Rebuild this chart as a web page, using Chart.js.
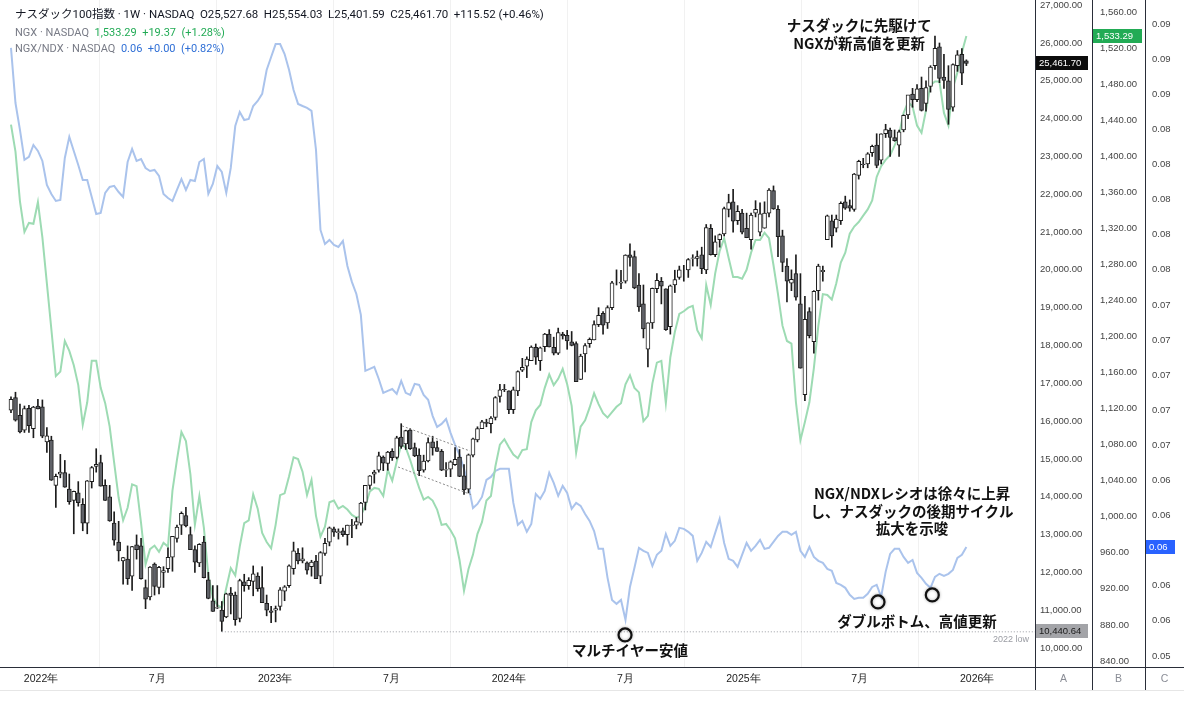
<!DOCTYPE html>
<html>
<head>
<meta charset="utf-8">
<script src="https://cdn.jsdelivr.net/npm/chart.js@4.4.1/dist/chart.umd.min.js"></script>
<style>
  html, body { margin: 0; padding: 0; background: #fff; }
  #wrap { width: 1184px; height: 701px; position: relative; }
</style>
</head>
<body>
<div id="wrap"><canvas id="chart" width="1184" height="701"></canvas></div>
<script>
// Weekly candles, index 0 = week of 15 Nov 2021
const ndxOpen = [
  16290,16620,16150,15760,16340,15800,16400,16380,15450,15500,
  14300,14600,14640,14200,13900,14100,13800,13300,14400,14800,
  14900,14300,14000,13300,12800,12300,12350,11900,12730,12700,
  11600,11350,12220,11600,12000,12100,12400,12900,13250,13500,
  13000,12600,12250,12800,11800,11250,11050,11000,10820,11450,
  11400,10780,11750,11650,11760,11900,11600,11180,10980,11000,
  11100,11500,11650,12100,12500,12300,12250,12150,12300,11900,
  12500,12800,13150,13050,13100,13000,13250,13250,13300,13850,
  14300,14600,14700,15050,14880,15200,15040,15580,15400,15760,
  15300,15100,14700,14950,15450,15300,15200,14700,14730,14850,
  15050,14550,14200,15100,15500,15800,15970,15930,16100,16650,
  16840,16800,16300,16800,17350,17450,17600,17950,17600,17970,
  18300,17950,17800,18300,18270,18100,18050,17100,17780,18050,
  18150,18550,18850,18600,19000,19700,19650,19700,20400,20350,
  19600,19100,17900,18600,19500,19700,19500,18500,19600,19800,
  20000,20000,20300,20300,20400,20000,21100,20400,20800,20950,
  21600,21800,21300,21500,21100,20800,21500,21000,21100,21500,
  22100,21600,20900,20100,19650,19900,19100,16700,18900,18100,
  19450,19950,20800,21300,21100,21300,21800,21700,21600,22500,
  22800,22800,23100,23300,22900,23600,23700,23500,23300,23700,
  24100,24650,24500,24800,24400,24850,25400,25900,25100,25000,
  24300,25400,25700,25527.68
];
const ndxHigh = [
  16640,16764,16450,16400,16420,16390,16573,16560,15830,15600,
  14600,15120,14960,14600,14150,14400,13950,14430,14800,15270,
  15100,14450,14300,13600,13350,12400,12700,12690,12990,12900,
  11800,12150,12250,12160,12150,12650,12950,13250,13600,13720,
  13200,12700,12760,12950,12000,11650,11650,11230,11450,11600,
  11480,11820,11950,11860,12170,11990,12150,11400,11100,11110,
  11600,11650,12200,12800,12630,12650,12280,12320,12450,12550,
  12900,13200,13200,13150,13170,13250,13400,13450,13850,14300,
  14560,14700,15180,15080,15200,15270,15600,15932,15760,15800,
  15420,15270,15100,15560,15600,15470,15250,14900,14950,15300,
  15250,14850,15130,15550,15850,16020,16050,16120,16650,16970,
  16970,16800,16900,17330,17660,17700,17990,18040,17960,18320,
  18420,18220,18460,18350,18400,18370,18100,17770,18050,18200,
  18650,19000,18900,19050,19700,20000,19990,20400,20690,20500,
  19900,19600,18600,19520,19900,19800,19500,19600,19990,20100,
  20120,20300,20400,20500,20600,21200,21200,20900,20950,21660,
  22000,22130,21700,21600,21500,21500,21830,21770,21800,22150,
  22220,21700,21050,20300,20000,20400,19900,19300,19000,19450,
  20150,20100,21450,21450,21450,21800,21950,21850,22550,22900,
  22950,23100,23300,23600,23600,23850,23750,23700,23700,24100,
  24600,24800,24900,25100,25000,25400,26180,26000,25700,25400,
  25450,25800,25850,25554.03
];
const ndxLow = [
  16220,16000,15690,15700,15700,15560,16320,15560,15170,14430,
  13720,14500,14250,13800,13020,13750,13100,13020,14230,14650,
  14280,13900,13350,12720,12300,11690,11680,11520,12350,11820,
  11040,11270,11400,11430,11600,12000,12030,12800,13000,13200,
  12600,12000,12150,11850,11300,10970,11040,10440.64,10800,10900,
  10600,10690,11500,11550,11380,11500,11200,10850,10670,10690,
  11000,11250,11600,11950,12220,12250,11950,11900,11830,11700,
  12450,12700,12950,12880,12950,12720,12920,13150,13250,13650,
  14200,14360,14650,14690,14700,14960,15000,15280,15250,15250,
  15060,14560,14650,14920,15100,15200,14690,14530,14530,14830,
  14530,14060,14100,15050,15450,15800,15850,15690,16030,16500,
  16780,16200,16200,16670,17310,17150,17600,17500,17340,17840,
  17960,17750,17760,18170,17900,17990,17040,17100,17300,17950,
  18150,18500,18300,18450,18950,19600,19500,19650,20100,19500,
  18900,18200,17430,18450,19400,19100,18400,18300,19400,19750,
  19700,19800,20100,20100,19900,19900,20390,20350,20600,20900,
  21400,21000,21200,20950,20850,20550,21400,20900,21100,21400,
  21600,20350,19950,19150,19450,19200,17400,16540,18200,17800,
  19200,19700,20800,20600,21000,21200,21600,21550,21550,22400,
  22700,22700,23000,22700,22800,23500,23000,23400,23000,23650,
  24000,24300,24450,24200,24200,24700,25300,24950,24800,23850,
  24200,25250,24900,25401.59
];
const ndxClose = [
  16573,16025,15712,16331,15880,16370,16320,15600,15610,14440,
  14540,14650,14250,13870,14140,13840,13300,14420,14770,14860,
  14280,13900,13360,12850,12570,12390,11830,12680,12600,11830,
  11290,12140,11630,12130,12050,12400,12950,13200,13560,13230,
  12600,12270,12740,11860,11310,10970,11070,10700,11430,11390,
  10750,11780,11650,11790,11960,11570,11200,11000,10940,11040,
  11540,11620,12170,12570,12300,12360,12060,12270,11830,12520,
  12770,13180,13060,13080,13000,13250,13240,13340,13830,14300,
  14550,14650,15080,14890,15180,15030,15560,15330,15750,15270,
  15080,14690,14940,15430,15290,15200,14700,14720,14920,14990,
  14540,14180,15110,15530,15800,15980,15940,16080,16620,16830,
  16830,16300,16830,17310,17420,17640,17960,17690,17940,18300,
  17960,17800,18340,18250,18120,18000,17040,17720,18000,18160,
  18550,18800,18540,19000,19660,19700,19680,20390,20330,19520,
  19020,18440,18600,19510,19720,19570,18420,19580,19740,20000,
  20000,20270,20320,20350,20030,21120,20400,20740,20930,21620,
  21780,21290,21550,21000,20850,21450,21600,21480,21500,22110,
  21610,20880,20200,19700,19750,19280,17400,18690,18260,19430,
  20100,19990,21430,20900,21340,21760,21630,21630,22530,22870,
  22780,23070,23270,22760,23600,23710,23500,23420,23650,24090,
  24630,24500,24790,24220,24820,25360,25860,25060,25010,24240,
  25430,25690,25200,25461.70
];
// NGX weekly close (axis B)
const ngxClose = [
  1435,1405,1350,1316,1326,1325,1349,1310,1259,1208,
  1156,1161,1195,1184,1168,1146,1102,1127,1173,1173,
  1143,1126,1100,1060,1021,996,1010,1036,1034,993,
  947,964,968,961,971,967,1029,1063,1094,1084,
  1047,991,1023,988,935,910,902,899,921,943,
  935,967,993,996,1025,1009,982,972,965,991,
  1024,1026,1045,1066,1064,1050,1024,1041,1001,978,
  989,1016,1018,1009,1012,1008,1002,999,1001,1012,
  1028,1032,1031,1023,1052,1040,1061,1080,1077,1063,
  1047,1032,1019,1022,1018,1008,991,992,985,976,
  952,918,942,958,981,994,1018,1023,1056,1080,
  1086,1077,1069,1065,1074,1075,1105,1118,1124,1143,
  1158,1146,1153,1164,1147,1123,1071,1100,1107,1121,
  1137,1125,1115,1110,1116,1122,1126,1147,1157,1143,
  1138,1106,1112,1148,1171,1173,1126,1177,1205,1225,
  1228,1232,1234,1207,1198,1257,1235,1270,1295,1309,
  1287,1266,1266,1264,1274,1293,1307,1307,1315,1309,
  1279,1247,1212,1195,1192,1127,1085,1105,1127,1165,
  1212,1247,1246,1241,1259,1282,1293,1314,1322,1327,
  1334,1341,1351,1377,1389,1396,1401,1412,1424,1448,
  1460,1455,1434,1426,1451,1479,1483,1483,1448,1434,
  1476,1493,1515,1533.29
];
// NGX/NDX ratio (axis C)
const ratioClose = [
  0.08864,0.08550,0.08397,0.08226,0.08243,0.08311,0.08277,0.08220,0.08083,0.08032,
  0.07992,0.07998,0.08237,0.08357,0.08277,0.08197,0.08112,0.08112,0.08015,0.07918,
  0.07924,0.08038,0.08072,0.08078,0.08043,0.08015,0.08214,0.08288,0.08220,0.08231,
  0.08180,0.08163,0.08169,0.08135,0.08032,0.08009,0.07992,0.08055,0.08117,0.08055,
  0.08112,0.08106,0.08214,0.08231,0.08032,0.08089,0.08191,0.08157,0.08038,0.08180,
  0.08419,0.08499,0.08453,0.08459,0.08533,0.08562,0.08602,0.08738,0.08812,0.08886,
  0.08886,0.08829,0.08738,0.08624,0.08545,0.08533,0.08522,0.08505,0.08283,0.07827,
  0.07747,0.07770,0.07742,0.07730,0.07764,0.07622,0.07531,0.07462,0.07343,0.07024,
  0.07035,0.07047,0.06978,0.06899,0.06910,0.06921,0.06893,0.06967,0.06899,0.06887,
  0.06950,0.06944,0.06887,0.06859,0.06768,0.06705,0.06722,0.06750,0.06671,0.06602,
  0.06545,0.06466,0.06369,0.06243,0.06266,0.06306,0.06403,0.06420,0.06454,0.06466,
  0.06466,0.06466,0.06272,0.06147,0.06169,0.06107,0.06152,0.06323,0.06295,0.06340,
  0.06443,0.06386,0.06312,0.06369,0.06329,0.06238,0.06272,0.06255,0.06209,0.06169,
  0.06112,0.06010,0.06010,0.05845,0.05719,0.05697,0.05719,0.05606,0.05793,0.05902,
  0.06016,0.05999,0.05987,0.05913,0.05976,0.05999,0.06095,0.06027,0.06056,0.06130,
  0.06124,0.06107,0.06084,0.05942,0.05987,0.06050,0.06021,0.06101,0.06181,0.06044,
  0.05953,0.05942,0.05907,0.05976,0.06044,0.05999,0.06027,0.06061,0.06010,0.06016,
  0.06050,0.06084,0.06107,0.06107,0.06090,0.06107,0.05999,0.05964,0.06021,0.05964,
  0.05942,0.05930,0.05896,0.05885,0.05816,0.05805,0.05788,0.05748,0.05725,0.05731,
  0.05731,0.05754,0.05793,0.05805,0.05737,0.05879,0.05981,0.06010,0.06010,0.05964,
  0.05930,0.05947,0.05873,0.05845,0.05811,0.05788,0.05850,0.05868,0.05856,0.05868,
  0.05890,0.05959,0.05976,0.06021
];

// x axis: week index of each date label
const tickWeeks = [6.7, 32.6, 58.9, 84.8, 111.0, 137.0, 163.3, 189.2, 215.4];
const tickLabels = ['2022年', '7月', '2023年', '7月', '2024年', '7月', '2025年', '7月', '2026年'];
const ticksA = [10000,11000,12000,13000,14000,15000,16000,17000,18000,19000,20000,21000,22000,23000,24000,25000,26000,27000];
const ticksB = [840,880,920,960,1000,1040,1080,1120,1160,1200,1240,1280,1320,1360,1400,1440,1480,1520,1560];
const ticksC = [0.054,0.056,0.058,0.060,0.062,0.064,0.066,0.068,0.070,0.072,0.074,0.076,0.078,0.080,0.082,0.084,0.086,0.088,0.090];

const lowWeek = 47; // 2022 low candle

// annotation anchors: [week index, value on axis A]
const notes = [
  { at: [189.1, 26450], lines: ['ナスダックに先駆けて', 'NGXが新高値を更新'] },
  { at: [200.9, 14073], lines: ['NGX/NDXレシオは徐々に上昇', 'し、ナスダックの後期サイクル', '拡大を示唆'] },
  { at: [202.0, 10688], lines: ['ダブルボトム、高値更新'] },
  { at: [138.0, 9921], lines: ['マルチイヤー安値'] }
];
const circles = [[136.9, 10344], [193.3, 11217], [205.4, 11402]];
const channel = [
  [[87.2, 15872], [102.3, 15211]],
  [[86.3, 14787], [102.8, 14047]]
];

const UI = 'Roboto, "Noto Sans CJK JP", sans-serif';
const NUM = '"Liberation Sans", Arial, sans-serif';
const JP = '"Noto Sans CJK JP", sans-serif';

const fmt = v => v.toLocaleString('en-US', { minimumFractionDigits: 2, maximumFractionDigits: 2 });

const weeks = ndxClose.map((_, i) => i);
const isUp = weeks.map(i => ndxClose[i] >= ndxOpen[i]);

function fixWidth(w) {
  return function (scale) {
    scale.width = w;
    scale.paddingTop = 0;
    scale.paddingBottom = 0;
  };
}

const overlay = {
  id: 'overlay',
  beforeDraw(chart) {
    const ctx = chart.ctx;
    ctx.save();
    ctx.fillStyle = '#ffffff';
    ctx.fillRect(0, 0, chart.width, chart.height);
    ctx.restore();
  },
  afterDraw(chart) {
    const ctx = chart.ctx;
    const { x, yA, yB, yC } = chart.scales;
    const area = chart.chartArea;
    const P = (i, v) => [x.getPixelForValue(i), yA.getPixelForValue(v)];
    ctx.save();

    // 2022 low dotted line
    const lowVal = ndxLow[lowWeek];
    const yl = yA.getPixelForValue(lowVal);
    ctx.strokeStyle = '#9a9ca3';
    ctx.lineWidth = 1;
    ctx.setLineDash([1, 2]);
    ctx.beginPath();
    ctx.moveTo(x.getPixelForValue(lowWeek), yl + 0.5);
    ctx.lineTo(area.right, yl + 0.5);
    ctx.stroke();
    ctx.setLineDash([]);
    ctx.fillStyle = '#9a9ca3';
    ctx.font = '9px ' + NUM;
    ctx.textAlign = 'right';
    ctx.textBaseline = 'middle';
    ctx.fillText('2022 low', area.right - 6, yl + 8);

    // channel
    ctx.strokeStyle = '#8a8a8a';
    ctx.setLineDash([2, 2]);
    channel.forEach(seg => {
      const a = P(...seg[0]), b = P(...seg[1]);
      ctx.beginPath();
      ctx.moveTo(a[0], a[1]);
      ctx.lineTo(b[0], b[1]);
      ctx.stroke();
    });
    ctx.setLineDash([]);

    // circles
    circles.forEach(c => {
      const p = P(...c);
      ctx.save();
      ctx.shadowColor = 'rgba(0,0,0,0.35)';
      ctx.shadowBlur = 3;
      ctx.strokeStyle = '#111';
      ctx.lineWidth = 2.2;
      ctx.beginPath();
      ctx.arc(p[0], p[1], 6.5, 0, Math.PI * 2);
      ctx.stroke();
      ctx.restore();
    });

    // notes
    ctx.font = 'bold 14.5px ' + JP;
    ctx.textAlign = 'center';
    ctx.textBaseline = 'middle';
    ctx.lineJoin = 'round';
    notes.forEach(n => {
      const p = P(...n.at);
      n.lines.forEach((t, k) => {
        const yy = p[1] + k * 17.5;
        ctx.lineWidth = 3;
        ctx.strokeStyle = 'rgba(255,255,255,0.9)';
        ctx.strokeText(t, p[0], yy);
        ctx.fillStyle = '#111';
        ctx.fillText(t, p[0], yy);
      });
    });

    // header
    const runs = [
      [15.5, 11.5, [['ナスダック100指数 · 1W · NASDAQ', '#131722'], ['O25,527.68', '#131722'], ['H25,554.03', '#131722'],
              ['L25,401.59', '#131722'], ['C25,461.70', '#131722'], ['+115.52 (+0.46%)', '#131722']]],
      [33, 11, [['NGX · NASDAQ', '#787b86'], [fmt(ngxClose[ngxClose.length - 1]), '#22ab55'], ['+19.37', '#22ab55'], ['(+1.28%)', '#22ab55']]],
      [49.5, 11, [['NGX/NDX · NASDAQ', '#787b86'], [ratioClose[ratioClose.length - 1].toFixed(2), '#2f6fd6'], ['+0.00', '#2f6fd6'], ['(+0.82%)', '#2f6fd6']]]
    ];
    ctx.textAlign = 'left';
    runs.forEach(([yy, size, parts]) => {
      ctx.font = size + 'px ' + UI;
      let xx = 15;
      parts.forEach(([t, c]) => {
        ctx.fillStyle = c;
        ctx.fillText(t, xx, yy);
        xx += ctx.measureText(t).width + 5.5;
      });
    });

    // axis frame lines
    ctx.strokeStyle = '#2a2e39';
    ctx.lineWidth = 1;
    const bottomRow = area.bottom + 23;
    [yA.left, yB.left, yC.left].forEach(xx => {
      ctx.beginPath();
      ctx.moveTo(Math.round(xx) + 0.5, 0);
      ctx.lineTo(Math.round(xx) + 0.5, bottomRow);
      ctx.stroke();
    });
    ctx.beginPath();
    ctx.moveTo(0, Math.round(area.bottom) + 0.5);
    ctx.lineTo(chart.width, Math.round(area.bottom) + 0.5);
    ctx.stroke();
    ctx.strokeStyle = '#e6e6e6';
    ctx.beginPath();
    ctx.moveTo(0, bottomRow + 0.5);
    ctx.lineTo(chart.width, bottomRow + 0.5);
    ctx.stroke();

    // scale names
    ctx.fillStyle = '#8a8d96';
    ctx.font = '10.5px ' + NUM;
    ctx.textAlign = 'center';
    [['A', yA], ['B', yB], ['C', yC]].forEach(([t, s]) => {
      ctx.fillText(t, (s.left + s.right) / 2, area.bottom + 12);
    });

    // price tags
    function tag(scale, value, text, bg, fg, w) {
      const yy = Math.round(scale.getPixelForValue(value));
      ctx.fillStyle = bg;
      ctx.fillRect(scale.left + 1, yy - 7, w, 14);
      ctx.fillStyle = fg;
      ctx.font = '9.5px ' + NUM;
      ctx.textAlign = 'left';
      ctx.fillText(text, scale.left + 4, yy + 0.5);
    }
    tag(yA, lowVal, fmt(lowVal), '#a3a4a8', '#1a1a1a', 52);
    tag(yA, ndxClose[ndxClose.length - 1], fmt(ndxClose[ndxClose.length - 1]), '#0c0c0c', '#ffffff', 52);
    tag(yB, ngxClose[ngxClose.length - 1], fmt(ngxClose[ngxClose.length - 1]), '#22ab55', '#ffffff', 49);
    tag(yC, ratioClose[ratioClose.length - 1], ratioClose[ratioClose.length - 1].toFixed(2), '#2962ff', '#ffffff', 29);

    ctx.restore();
  }
};

new Chart(document.getElementById('chart'), {
  type: 'bar',
  data: {
    datasets: [
      {
        label: 'body',
        data: weeks.map(i => ({ x: i, y: [ndxOpen[i], ndxClose[i]] })),
        backgroundColor: isUp.map(u => u ? '#ffffff' : '#606268'),
        borderColor: '#1c1c1c',
        borderWidth: 1,
        borderSkipped: false,
        barThickness: 4,
        grouped: false,
        yAxisID: 'yA',
        order: 1
      },
      {
        label: 'wick',
        data: weeks.map(i => ({ x: i, y: [ndxLow[i], ndxHigh[i]] })),
        backgroundColor: '#1c1c1c',
        barThickness: 1,
        grouped: false,
        yAxisID: 'yA',
        order: 2
      },
      {
        type: 'line',
        label: 'NGX',
        data: weeks.map(i => ({ x: i, y: ngxClose[i] })),
        borderColor: '#9ddbb3',
        borderWidth: 2,
        pointRadius: 0,
        tension: 0,
        yAxisID: 'yB',
        order: 3
      },
      {
        type: 'line',
        label: 'NGX/NDX',
        data: weeks.map(i => ({ x: i, y: ratioClose[i] })),
        borderColor: '#aac3ec',
        borderWidth: 2,
        pointRadius: 0,
        tension: 0,
        yAxisID: 'yC',
        order: 4
      }
    ]
  },
  options: {
    responsive: false,
    animation: false,
    layout: { padding: { left: 0, right: 0, top: 0, bottom: 11 } },
    plugins: { legend: { display: false }, tooltip: { enabled: false } },
    scales: {
      x: {
        type: 'linear',
        min: -2.45,
        max: 228.3,
        offset: false,
        afterBuildTicks: s => { s.ticks = tickWeeks.map(v => ({ value: v })); },
        afterFit: s => { s.height = 23; s.paddingLeft = 0; s.paddingRight = 0; },
        ticks: {
          autoSkip: false,
          maxRotation: 0,
          padding: 6,
          color: '#222',
          font: { family: NUM, size: 10.5 },
          callback: (v, idx) => tickLabels[idx]
        },
        grid: { color: 'rgba(0,0,0,0.055)', drawTicks: false },
        border: { display: false }
      },
      yA: {
        type: 'linear',
        position: 'right',
        weight: 0,
        min: 9497,
        max: 27137,
        afterBuildTicks: s => { s.ticks = ticksA.map(v => ({ value: v })); },
        afterFit: fixWidth(57),
        ticks: { padding: 5, color: '#444', font: { family: NUM, size: 9.5 }, callback: v => fmt(v) },
        grid: { display: false, drawTicks: false },
        border: { display: false }
      },
      yB: {
        type: 'linear',
        position: 'right',
        weight: 1,
        min: 833.3,
        max: 1573.3,
        afterBuildTicks: s => { s.ticks = ticksB.map(v => ({ value: v })); },
        afterFit: fixWidth(53),
        ticks: { padding: 8, color: '#444', font: { family: NUM, size: 9.5 }, callback: v => fmt(v) },
        grid: { display: false, drawTicks: false },
        border: { display: false }
      },
      yC: {
        type: 'linear',
        position: 'right',
        weight: 2,
        min: 0.05337,
        max: 0.09137,
        afterBuildTicks: s => { s.ticks = ticksC.map(v => ({ value: v })); },
        afterFit: fixWidth(39),
        ticks: { padding: 7, color: '#444', font: { family: NUM, size: 9.5 }, callback: v => v.toFixed(2) },
        grid: { display: false, drawTicks: false },
        border: { display: false }
      }
    }
  },
  plugins: [overlay]
});
</script>
</body>
</html>
